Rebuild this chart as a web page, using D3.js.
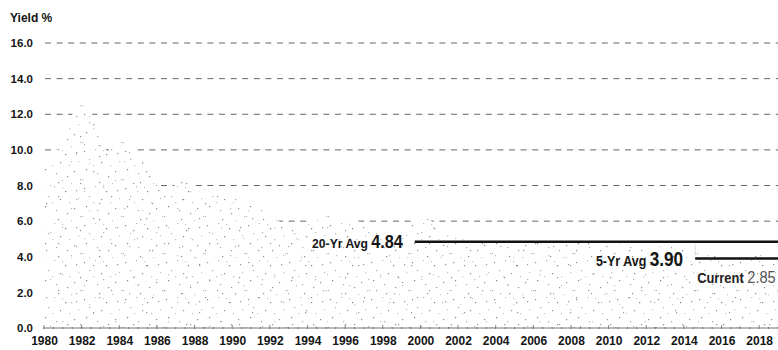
<!DOCTYPE html>
<html>
<head>
<meta charset="utf-8">
<script src="https://cdn.jsdelivr.net/npm/d3@7"></script>
<style>
  html, body { margin: 0; padding: 0; background: #fff; }
  svg { display: block; }
  text { fill: #151515; }
</style>
</head>
<body>
<div id="chart"></div>
<script>
// Yield history (year, yield %)
const years = [1980, 1980.5, 1981, 1981.5, 1982, 1982.5, 1983, 1983.4, 1983.7, 1984, 1984.5, 1985, 1985.5,
  1986, 1986.3, 1986.8, 1987.2, 1987.6, 1988, 1988.5, 1989, 1990, 1991, 1992, 1992.6, 1993.3, 1994,
  1994.5, 1995, 1995.5, 1996, 1996.5, 1996.9, 1997.5, 1998, 1998.5, 1999, 1999.6, 2000, 2000.6,
  2001, 2002, 2003, 2004, 2005, 2006, 2007, 2008, 2009, 2010, 2011, 2012, 2013, 2014, 2014.6,
  2015, 2016, 2017, 2018, 2019, 2019.7];
const yields = [9.2, 9.6, 10.6, 12.0, 12.6, 12.2, 10.6, 9.8, 10.2, 10.4, 10.6, 9.8, 9.0,
  8.3, 7.6, 7.8, 8.4, 8.6, 7.8, 7.6, 7.5, 7.4, 7.0, 6.4, 5.9, 5.5, 5.8,
  6.5, 6.4, 6.1, 6.05, 6.2, 5.8, 5.6, 5.2, 5.0, 5.4, 6.0, 6.3, 6.0,
  5.4, 5.1, 4.8, 4.9, 4.7, 4.9, 4.8, 5.0, 4.8, 4.6, 4.8, 4.5, 4.6, 4.7, 4.3,
  4.1, 4.05, 4.1, 4.15, 4.1, 4.1];

const yTicks = [0, 2, 4, 6, 8, 10, 12, 14, 16];
const xTicks = d3.range(1980, 2020, 2);

const avg20 = { label: '20-Yr Avg', value: 4.84, from: 1999.7, to: 2019.7 };
const avg5 = { label: '5-Yr Avg', value: 3.90, from: 2014.6, to: 2019.7 };
const current = { label: 'Current', value: 2.85 };

const data = years.map((yr, i) => ({ x: yr, y: yields[i] }));

const width = 778;
const height = 350;

const svg = d3.select('#chart').append('svg')
  .attr('width', width)
  .attr('height', height);

const x = d3.scaleLinear()
  .domain([1980, 2020])
  .range([44, 44 + 40 * 18.82]);

const y = d3.scaleLinear()
  .domain([0, 16])
  .range([328, 43]);

// stipple texture for the area (two tiles of different size so it looks less regular)
const defs = svg.append('defs');
function stipple(id, w, h, dots) {
  defs.append('pattern')
    .attr('id', id)
    .attr('patternUnits', 'userSpaceOnUse')
    .attr('width', w)
    .attr('height', h)
    .selectAll('rect')
    .data(dots)
    .join('rect')
    .attr('x', d => d[0])
    .attr('y', d => d[1])
    .attr('width', 1.2)
    .attr('height', 1.2)
    .attr('fill', d => d[2]);
}
stipple('stippleA', 41, 37, [[2, 3, '#8a8a8a'], [13, 1, '#bbb'], [24, 6, '#7d7d7d'], [7, 11, '#b0b0b0'],
  [19, 14, '#8c8c8c'], [28, 17, '#c0c0c0'], [4, 21, '#858585'], [15, 25, '#a8a8a8'], [26, 28, '#909090'],
  [11, 17, '#c4c4c4'], [21, 2, '#c6c6c6'], [0, 31, '#b6b6b6'], [35, 5, '#959595'], [37, 13, '#c2c2c2'],
  [33, 23, '#8e8e8e'], [39, 31, '#bcbcbc'], [17, 34, '#8b8b8b'], [30, 35, '#c8c8c8']]);
stipple('stippleB', 53, 47, [[5, 8, '#999'], [31, 3, '#c0c0c0'], [46, 15, '#8f8f8f'], [18, 20, '#b8b8b8'],
  [40, 30, '#959595'], [9, 39, '#c2c2c2'], [27, 42, '#8d8d8d'], [50, 44, '#b4b4b4'], [23, 11, '#a6a6a6'],
  [36, 22, '#cccccc']]);

// Grid lines
svg.append('g')
  .selectAll('line')
  .data(yTicks.filter(d => d > 0))
  .join('line')
  .attr('x1', 45)
  .attr('x2', width)
  .attr('y1', d => y(d))
  .attr('y2', d => y(d))
  .attr('stroke', '#666')
  .attr('stroke-width', 1)
  .attr('stroke-dasharray', '6,5.6');

// Area: white under-fill hides the grid, then the stipple on top
const area = d3.area()
  .x(d => x(d.x))
  .y0(y(0))
  .y1(d => y(d.y));

svg.append('path')
  .datum(data)
  .attr('fill', '#fff')
  .attr('d', area);

['stippleA', 'stippleB'].forEach(id => {
  svg.append('path')
    .datum(data)
    .attr('fill', `url(#${id})`)
    .attr('d', area);
});

// Y labels
svg.append('g')
  .selectAll('text')
  .data(yTicks)
  .join('text')
  .attr('x', 33)
  .attr('y', d => y(d))
  .attr('dy', '0.36em')
  .attr('text-anchor', 'end')
  .style('font', 'bold 11.5px "Liberation Sans", Arial, sans-serif')
  .text(d => d.toFixed(1));

svg.append('text')
  .attr('x', 10)
  .attr('y', 22)
  .style('font', 'bold 12px "Liberation Sans", Arial, sans-serif')
  .text('Yield %');

// X axis
const xAxis = g => g
  .attr('transform', `translate(0, ${y(0)})`)
  .call(d3.axisBottom(x)
    .tickValues(xTicks)
    .tickSize(0)
    .tickPadding(8)
    .tickFormat(d3.format('d')));

const xg = svg.append('g').call(xAxis);
xg.select('.domain')
  .attr('d', `M${x(1980) - 1},0H${width}`)
  .attr('stroke', '#777');
xg.selectAll('text')
  .style('font', 'bold 12px "Liberation Sans", Arial, sans-serif')
  .attr('fill', '#151515');

// minor ticks along the base
svg.append('g')
  .selectAll('line')
  .data(d3.range(1980, 2020, 0.5))
  .join('line')
  .attr('x1', d => x(d))
  .attr('x2', d => x(d))
  .attr('y1', d => y(0) - (d % 2 === 0 ? 3 : 1))
  .attr('y2', y(0) + 1)
  .attr('stroke', '#666')
  .attr('stroke-width', 0.8);

// Average lines
[avg20, avg5].forEach(a => {
  svg.append('line')
    .attr('x1', x(a.from))
    .attr('x2', x(a.to))
    .attr('y1', y(a.value))
    .attr('y2', y(a.value))
    .attr('stroke', '#111')
    .attr('stroke-width', 2.5);
});

svg.append('line')
  .attr('x1', x(avg5.from))
  .attr('x2', x(avg5.from))
  .attr('y1', y(avg20.value) + 2)
  .attr('y2', y(avg5.value) - 3)
  .attr('stroke', '#d4d4d4')
  .attr('stroke-width', 0.8);

const labelFont = '"Liberation Sans", Arial, sans-serif';

// condensed look: squeeze the label horizontally around its anchor point
function avgLabel(a, lblSize, valSize, gap, sx) {
  const g = svg.append('g')
    .attr('transform', `translate(${x(a.from) - gap}, ${y(a.value) + valSize * 0.36}) scale(${sx}, 1)`);
  const t = g.append('text')
    .attr('text-anchor', 'end')
    .style('font-family', labelFont)
    .style('font-weight', 'bold');
  t.append('tspan')
    .style('font-size', lblSize + 'px')
    .text(a.label + ' ');
  t.append('tspan')
    .style('font-size', valSize + 'px')
    .text(a.value.toFixed(2));
}

avgLabel(avg20, 13.5, 18, 12, 0.9);
avgLabel(avg5, 14.5, 20, 12, 0.86);

const cg = svg.append('g')
  .attr('transform', `translate(${x(avg5.from) + 2}, ${y(current.value) + 6}) scale(0.86, 1)`);
const cur = cg.append('text')
  .style('font-family', labelFont);
cur.append('tspan')
  .style('font-size', '15px')
  .style('font-weight', 'bold')
  .attr('fill', '#222')
  .text(current.label + ' ');
cur.append('tspan')
  .style('font-size', '17px')
  .attr('fill', '#555')
  .text(current.value.toFixed(2));
</script>
</body>
</html>
